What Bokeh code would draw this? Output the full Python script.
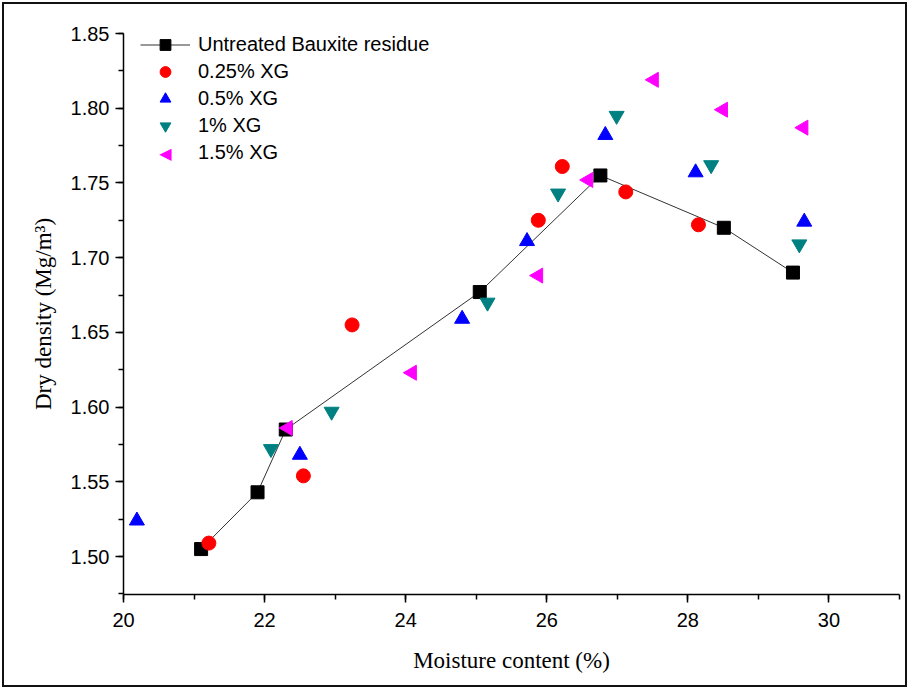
import numpy as np
from bokeh.plotting import figure
from bokeh.models import (Range1d, Legend, LegendItem, SingleIntervalTicker,
                          NumeralTickFormatter, Label, InlineStyleSheet)
from bokeh.embed import file_html
from bokeh.resources import INLINE

# Data
untreated_x = [21.1, 21.9, 22.3, 25.05, 26.76, 28.51, 29.49]
untreated_y = [1.505, 1.543, 1.585, 1.677, 1.755, 1.720, 1.690]

xg025_x = [21.21, 22.55, 23.24, 25.88, 26.22, 27.12, 28.15]
xg025_y = [1.509, 1.554, 1.655, 1.725, 1.761, 1.744, 1.722]

xg05_x = [20.19, 22.50, 24.80, 25.72, 26.83, 28.11, 29.65]
xg05_y = [1.524, 1.568, 1.659, 1.711, 1.782, 1.757, 1.724]

xg1_x = [22.09, 22.95, 25.16, 26.16, 26.99, 28.33, 29.58]
xg1_y = [1.572, 1.597, 1.670, 1.743, 1.795, 1.762, 1.709]

xg15_x = [22.33, 24.09, 25.88, 26.59, 27.52, 28.50, 29.64]
xg15_y = [1.586, 1.623, 1.688, 1.752, 1.819, 1.799, 1.787]

labels = ["Untreated Bauxite residue", "0.25% XG", "0.5% XG", "1% XG", "1.5% XG"]

border_css = InlineStyleSheet(css="""
:host { position: relative; }
:host::after {
  content: "";
  position: absolute;
  left: 2px; top: 2px; right: 2px; bottom: 2px;
  border: 2px solid #111;
  pointer-events: none;
  z-index: 1000;
}
""")

p = figure(width=909, height=689, output_backend="svg", toolbar_location=None,
           x_range=Range1d(20, 31), y_range=Range1d(1.4746, 1.85),
           min_border_left=123, min_border_right=10, min_border_top=33, min_border_bottom=95,
           stylesheets=[border_css])
p.outline_line_color = None
p.xgrid.visible = False
p.ygrid.visible = False

line_r = p.line(untreated_x, untreated_y, line_color="#333333", line_width=1)
sq_r = p.scatter(untreated_x, untreated_y, marker="square", size=13, fill_color="black", line_color="black")
r1 = p.scatter(xg025_x, xg025_y, marker="circle", size=14, fill_color="#ff0000", line_color="#ff0000")
r2 = p.scatter(xg05_x, xg05_y, marker="triangle", size=15, fill_color="#0000ff", line_color="#0000ff")
r3 = p.scatter(xg1_x, xg1_y, marker="inverted_triangle", size=15, fill_color="#008080", line_color="#008080")
r4 = p.scatter(xg15_x, xg15_y, marker="triangle", angle=np.pi / 2, size=15, fill_color="#ff00ff", line_color="#ff00ff")
# invisible stand-in for the legend entry (legend glyphs ignore marker angle)
r4_leg = p.scatter(x=[], y=[], marker="triangle", fill_alpha=0, line_alpha=0)

for ax in (p.xaxis[0], p.yaxis[0]):
    ax.axis_line_color = "black"
    ax.axis_line_width = 1.5
    ax.major_tick_line_color = "black"
    ax.major_tick_line_width = 1.5
    ax.minor_tick_line_color = "black"
    ax.minor_tick_line_width = 1.5
    ax.major_tick_in = 0
    ax.major_tick_out = 8
    ax.minor_tick_in = 0
    ax.minor_tick_out = 5
    ax.major_label_text_font = "Liberation Sans"
    ax.major_label_text_font_size = "20px"
    ax.major_label_text_color = "black"
    ax.axis_label_text_font = "Liberation Serif"
    ax.axis_label_text_font_size = "23px"
    ax.axis_label_text_font_style = "normal"
    ax.axis_label_text_color = "black"

p.xaxis[0].ticker = SingleIntervalTicker(interval=2, num_minor_ticks=2)
p.yaxis[0].ticker = SingleIntervalTicker(interval=0.05, num_minor_ticks=2)
p.yaxis[0].formatter = NumeralTickFormatter(format="0.00")
p.xaxis[0].axis_label = "Moisture content (%)"
p.yaxis[0].axis_label = "Dry density (Mg/m³)"
p.xaxis[0].major_label_standoff = 10
p.yaxis[0].major_label_standoff = 6
p.xaxis[0].axis_label_standoff = 18
p.yaxis[0].axis_label_standoff = 12

legend = Legend(items=[
    LegendItem(label=labels[0], renderers=[line_r, sq_r]),
    LegendItem(label=labels[1], renderers=[r1]),
    LegendItem(label=labels[2], renderers=[r2]),
    LegendItem(label=labels[3], renderers=[r3]),
    LegendItem(label=labels[4], renderers=[r4_leg]),
], location=(17, 428))
legend.background_fill_alpha = 0
legend.border_line_color = None
legend.padding = 0
legend.margin = 0
legend.spacing = 0
legend.glyph_width = 50
legend.glyph_height = 27
legend.label_height = 27
legend.label_standoff = 8
legend.label_text_font = "Liberation Sans"
legend.label_text_font_size = "20px"
legend.label_text_color = "black"
p.add_layout(legend, "center")

# left-pointing triangle symbol for the "1.5% XG" legend entry
leg_tri = Label(x=42, y=441.5, x_units="screen", y_units="screen", text="◀",
                text_font="DejaVu Sans", text_font_size="16px", text_color="#ff00ff",
                text_align="center", text_baseline="middle")
p.add_layout(leg_tri)

open("out.html", "w").write(file_html(p, INLINE))
